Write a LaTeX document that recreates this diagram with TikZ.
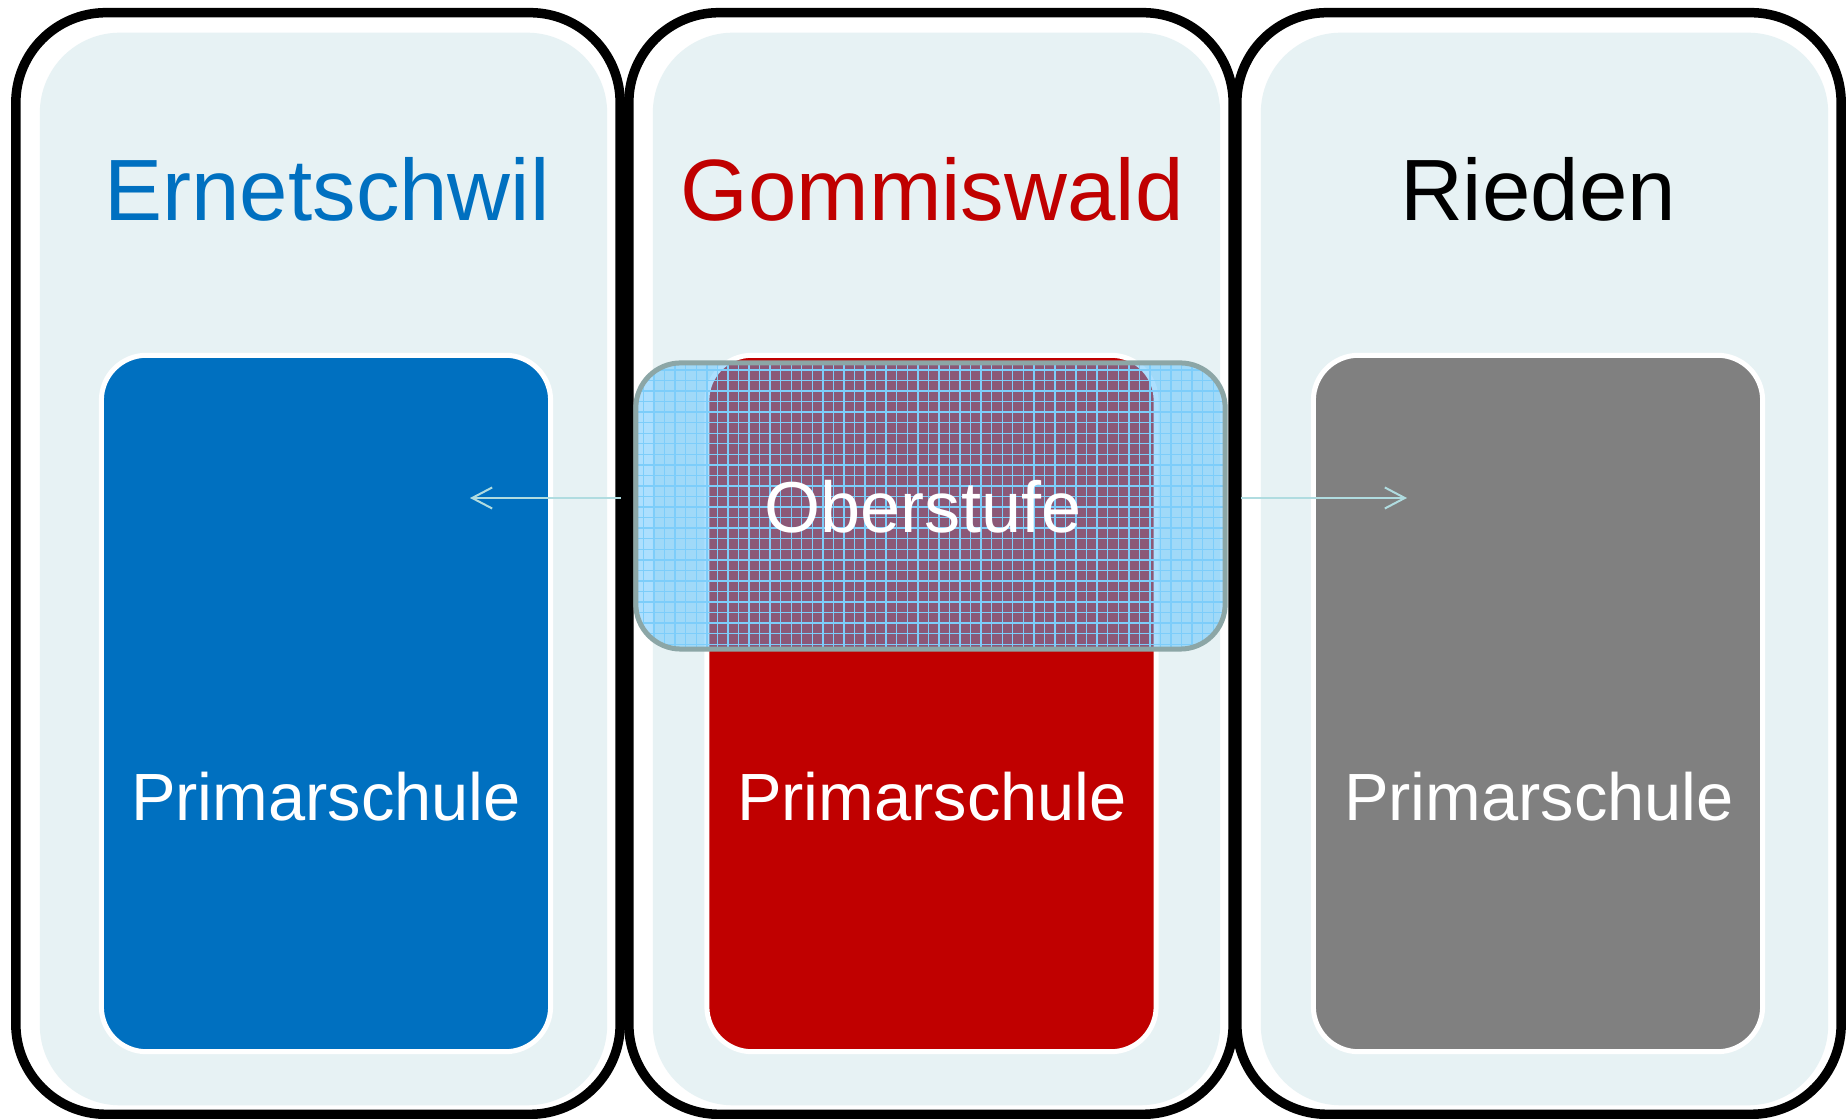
\documentclass[tikz,border=0pt]{standalone}
\usepackage{fontspec}
\setmainfont{Liberation Sans}
\usetikzlibrary{arrows.meta,patterns,positioning}
\definecolor{ernblau}{RGB}{0,112,192}
\definecolor{gomrot}{RGB}{192,0,0}
\definecolor{riedgrau}{RGB}{128,128,128}
\definecolor{hellfeld}{RGB}{231,242,244}
\definecolor{oberrand}{RGB}{140,166,166}
\definecolor{oberblau}{RGB}{81,189,253}
\definecolor{obergitter}{RGB}{125,205,250}
\definecolor{pfeilfarbe}{RGB}{176,220,224}
\tikzset{
    gemeinde/.style={
    rectangle,rounded corners=0.9cm,draw=black,line width=0.095cm,fill=white,
    minimum width=6.04cm,minimum height=11.01cm,inner sep=0pt
    },
    innenfeld/.style={
    rectangle,rounded corners=0.8cm,fill=hellfeld,
    minimum width=5.67cm,minimum height=10.72cm,inner sep=0pt
    },
    schule/.style={
    rectangle,rounded corners=0.45cm,draw=white,line width=0.05cm,
    minimum width=4.49cm,minimum height=6.96cm,inner sep=0pt
    },
    oberstufe/.style={
    rectangle,rounded corners=0.45cm,draw=oberrand,line width=0.05cm,
    minimum width=5.89cm,minimum height=2.86cm,inner sep=0pt,
    preaction={fill=oberblau,fill opacity=0.47},
    preaction={pattern=grid,pattern color=obergitter}
    },
    titel/.style={
    anchor=base,inner sep=0pt,font=\fontsize{24.75}{30}\selectfont
    },
    schultext/.style={
    anchor=base,inner sep=0pt,text=white,font=\fontsize{19}{23}\selectfont
    },
    obertext/.style={
    anchor=base,inner sep=0pt,text=white,font=\fontsize{20.5}{25}\selectfont
    },
    pfeil/.style={
    ->,draw=pfeilfarbe,line width=0.02cm
    },
}

\begin{document}
\begin{tikzpicture}[x=0.01cm, y=-0.01cm, >={Straight Barb[length=0.2cm,width=0.21cm]}]
  \useasboundingbox (0,0) rectangle (1847,1119);

  \node[gemeinde] (ern) at (318,563.5) {};
  \node[gemeinde] (gom) at (931,563.5) {};
  \node[gemeinde] (ried) at (1539,563.5) {};
  \node[innenfeld] (ernfeld) at ([shift={(5.5,5.5)}]ern.center) {};
  \node[innenfeld] (gomfeld) at ([shift={(5.5,5.5)}]gom.center) {};
  \node[innenfeld] (riedfeld) at ([shift={(5.5,5.5)}]ried.center) {};

  \node[titel,text=ernblau] (ernname) at (327,221) {Ernetschwil};
  \node[titel,text=gomrot] (gomname) at (932,221) {Gommiswald};
  \node[titel,text=black] (riedname) at (1538,221) {Rieden};

  \node[schule,fill=ernblau] (ernps) at (326,703.5) {};
  \node[schule,fill=gomrot] (gomps) at (931.5,703.5) {};
  \node[schule,fill=riedgrau] (riedps) at (1538,703.5) {};
  \node[schultext] (ernpstext) at (326,821) {Primarschule};
  \node[schultext] (gompstext) at (932,821) {Primarschule};
  \node[schultext] (riedpstext) at (1539,821) {Primarschule};

  \node[oberstufe] (ober) at (930.5,506) {};
  \node[obertext] (obertxt) at (923,533) {Oberstufe};

  \coordinate (spitzeL) at (470,498);
  \coordinate (spitzeR) at (1407,498);
  \draw[pfeil] ([xshift=-0.125cm]ober.west |- spitzeL) -- (spitzeL);
  \draw[pfeil] ([xshift=0.135cm]ober.east |- spitzeR) -- (spitzeR);
\end{tikzpicture}
\end{document}
